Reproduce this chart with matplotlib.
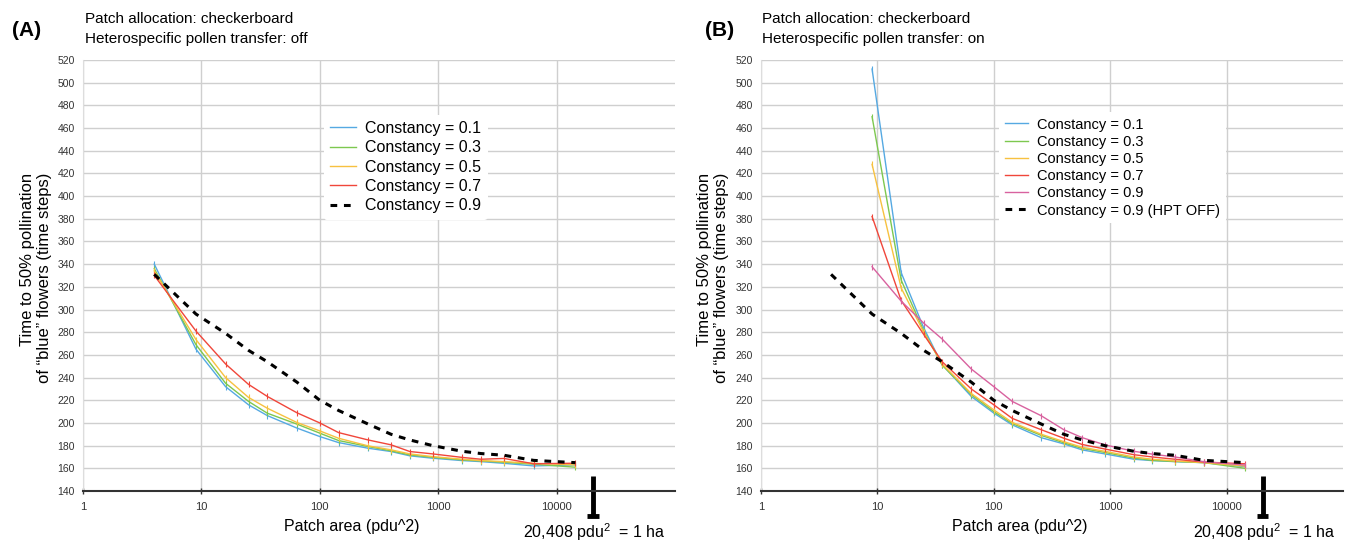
import matplotlib
matplotlib.use('Agg')
import matplotlib.pyplot as plt
import matplotlib.transforms as mtransforms
from matplotlib.lines import Line2D

plt.rcParams['font.family'] = ['Liberation Sans', 'DejaVu Sans']
plt.rcParams['mathtext.fontset'] = 'custom'
plt.rcParams['mathtext.rm'] = 'Liberation Sans'

# patch areas (pdu^2)
area = [4, 9, 16, 25, 36, 64, 100, 144, 256, 400, 576, 900, 1600, 2304, 3600, 6400, 14400]
area_b = area[1:]

# panel A, heterospecific pollen transfer off
a_c01 = [340, 265, 232, 216, 206.5, 195.5, 188, 182.7, 177.7, 174.8, 171, 168.9, 166.8, 165.9, 164.4, 162.1, 163]
a_c03 = [336, 269, 235, 219, 208.6, 199, 191, 184.5, 179.2, 175.4, 171.8, 169.7, 167.4, 166.5, 165.3, 163.6, 161]
a_c05 = [334, 273.5, 240, 222.5, 213, 200.4, 193, 186.5, 179.8, 176.3, 172.7, 170.3, 168, 166.8, 165.9, 164.4, 163]
a_c07 = [330, 281, 252, 234, 223.4, 209, 200, 191.5, 185, 180.7, 174.8, 172.7, 169.6, 168, 168.7, 164, 164.5]
a_c09 = [331, 296, 279, 264, 254, 236, 220, 211, 199, 190, 185, 180, 175, 173, 171.5, 167, 165]

# panel B, heterospecific pollen transfer on (start at 9 pdu^2)
b_c01 = [512, 332.6, 283.8, 251.4, 223.4, 208.7, 198.3, 187, 181.5, 176.2, 172.7, 168, 166.8, 165.9, 165, 161.5]
b_c03 = [470, 326, 281, 251, 225, 210, 199.5, 189, 182.5, 177.5, 174, 169, 167, 166, 165, 160]
b_c05 = [428, 319, 280, 252, 226, 211.5, 200.5, 190, 183.5, 178.5, 175, 170, 168, 166.5, 165, 162]
b_c07 = [382, 308, 278, 254, 230, 216, 204, 194, 186.5, 181, 177, 172, 170, 168, 165.5, 164]
b_c09 = [337.7, 307.4, 288, 274, 247.6, 232, 219, 206.3, 194, 187, 180.7, 175, 172.5, 170, 165.8, 162.9]

hectare = 20408

c_blue = '#55a9e2'
c_green = '#7dc84f'
c_yellow = '#f7c140'
c_red = '#f0463a'
c_pink = '#d8629f'

fig = plt.figure(figsize=(13.57, 5.42), dpi=100)
ax_a = fig.add_axes([83 / 1357, 1 - 491 / 542, 592 / 1357, 431 / 542])
ax_b = fig.add_axes([761 / 1357, 1 - 491 / 542, 582 / 1357, 431 / 542])


def style_axes(ax, xlabel_pos):
    ax.set_xscale('log')
    ax.set_xlim(1, 100000)
    ax.set_ylim(140, 520)
    ax.set_yticks(range(140, 521, 20))
    ax.set_xticks([1, 10, 100, 1000, 10000])
    ax.set_xticklabels(['1', '10', '100', '1000', '10000'])
    ax.minorticks_off()
    ax.grid(True, color='#cfcfcf', linewidth=1)
    ax.set_axisbelow(True)
    for s in ['top', 'right']:
        ax.spines[s].set_visible(False)
    ax.spines['left'].set_color('#dddddd')
    ax.spines['bottom'].set_color('#333333')
    ax.spines['bottom'].set_linewidth(1.5)
    ax.tick_params(axis='y', length=0, labelsize=7.5, labelcolor='#333333', pad=6)
    ax.tick_params(axis='x', direction='inout', length=4, width=1, color='#333333',
                   labelsize=8, labelcolor='#333333', pad=6)
    ax.set_xlabel('Patch area (pdu^2)', fontsize=11.5, labelpad=5)
    ax.xaxis.set_label_coords(xlabel_pos, -0.065)

    # 1 ha marker
    trans = mtransforms.blended_transform_factory(ax.transData, ax.transAxes)
    ax.plot([hectare, hectare], [0.035, -0.058], transform=trans, color='black',
            linewidth=3.5, clip_on=False, solid_capstyle='butt')
    ax.plot([hectare * 0.89, hectare * 1.12], [-0.058, -0.058], transform=trans,
            color='black', linewidth=3.5, clip_on=False, solid_capstyle='butt')
    ax.text(hectare * 1.03, -0.095, '20,408 pdu$^2$  = 1 ha', transform=trans,
            ha='center', va='center', fontsize=11.5)


style_axes(ax_a, 0.454)
style_axes(ax_b, 0.445)

lw = 1.0
mk = dict(marker='|', markersize=4, markeredgewidth=0.8)
dash = (0, (2.2, 2.2))

ax_a.plot(area, a_c01, color=c_blue, lw=lw, **mk)
ax_a.plot(area, a_c03, color=c_green, lw=lw, **mk)
ax_a.plot(area, a_c05, color=c_yellow, lw=lw, **mk)
ax_a.plot(area, a_c07, color=c_red, lw=lw, **mk)
ax_a.plot(area, a_c09, color='black', lw=2.2, ls=dash)

ax_b.plot(area_b, b_c01, color=c_blue, lw=lw, **mk)
ax_b.plot(area_b, b_c03, color=c_green, lw=lw, **mk)
ax_b.plot(area_b, b_c05, color=c_yellow, lw=lw, **mk)
ax_b.plot(area_b, b_c07, color=c_red, lw=lw, **mk)
ax_b.plot(area_b, b_c09, color=c_pink, lw=lw, **mk)
ax_b.plot(area, a_c09, color='black', lw=2.2, ls=dash)

# legends without the point markers
h_a = [Line2D([], [], color=c, lw=lw) for c in [c_blue, c_green, c_yellow, c_red]]
h_a.append(Line2D([], [], color='black', lw=2.2, ls=dash))
l_a = ['Constancy = 0.1', 'Constancy = 0.3', 'Constancy = 0.5', 'Constancy = 0.7',
       'Constancy = 0.9']
leg_a = ax_a.legend(h_a, l_a, loc='upper left', bbox_to_anchor=(0.393, 0.892),
                    frameon=True, fontsize=11.5, handlelength=1.6, handletextpad=0.6,
                    labelspacing=0.27, borderpad=0.4)
leg_a.get_frame().set_edgecolor('none')
leg_a.get_frame().set_facecolor('white')
leg_a.get_frame().set_alpha(1)

h_b = [Line2D([], [], color=c, lw=lw) for c in [c_blue, c_green, c_yellow, c_red, c_pink]]
h_b.append(Line2D([], [], color='black', lw=2.2, ls=dash))
l_b = l_a + ['Constancy = 0.9 (HPT OFF)']
leg_b = ax_b.legend(h_b, l_b, loc='upper left', bbox_to_anchor=(0.396, 0.897),
                    frameon=True, fontsize=10.5, handlelength=1.6, handletextpad=0.6,
                    labelspacing=0.22, borderpad=0.4)
leg_b.get_frame().set_edgecolor('none')
leg_b.get_frame().set_facecolor('white')
leg_b.get_frame().set_alpha(1)

# panel titles
fig.text(12 / 1357, 1 - 30 / 542, '(A)', fontsize=15, fontweight='bold', va='center')
fig.text(85 / 1357, 1 - 29 / 542,
         'Patch allocation: checkerboard\nHeterospecific pollen transfer: off',
         fontsize=11, va='center', linespacing=1.55)
fig.text(705 / 1357, 1 - 30 / 542, '(B)', fontsize=15, fontweight='bold', va='center')
fig.text(762 / 1357, 1 - 29 / 542,
         'Patch allocation: checkerboard\nHeterospecific pollen transfer: on',
         fontsize=11, va='center', linespacing=1.55)

ylab = 'Time to 50% pollination\nof \u201cblue\u201d flowers (time steps)'
fig.text(36 / 1357, 1 - 278 / 542, ylab, rotation=90, ha='center', va='center',
         fontsize=12, multialignment='right', linespacing=1.1)
fig.text(713 / 1357, 1 - 278 / 542, ylab, rotation=90, ha='center', va='center',
         fontsize=12, multialignment='right', linespacing=1.1)

fig.savefig('out.png', dpi=100)
